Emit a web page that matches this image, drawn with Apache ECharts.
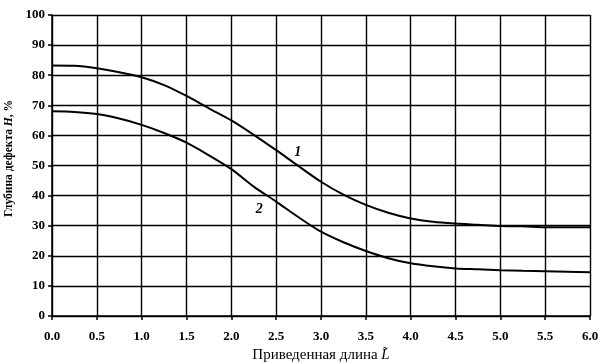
<!DOCTYPE html>
<html><head><meta charset="utf-8">
<script src="https://cdn.jsdelivr.net/npm/echarts@6/dist/echarts.min.js"></script>
<style>html,body{margin:0;padding:0;background:#fff}#c{width:605px;height:364px}</style>
</head><body><div id="c"></div>
<script>
const xValues = [0,0.25,0.5,0.75,1.0,1.25,1.5,1.75,2.0,2.25,2.5,2.75,3.0,3.25,3.5,3.75,4.0,4.25,4.5,4.75,5.0,5.25,5.5,5.75,6.0];
const curve1 = [83.2,83.1,82.3,81,79.3,76.7,73.1,69,65,60.2,55.1,49.8,44.6,40.3,36.9,34.3,32.4,31.3,30.7,30.3,29.9,29.8,29.5,29.5,29.5];
const curve2 = [68,67.8,67.1,65.6,63.5,60.8,57.6,53.4,48.8,43,38,32.8,28,24.5,21.6,19.2,17.5,16.5,15.8,15.5,15.2,15,14.9,14.7,14.5];
const curveNames = ['1','2'];
const labelPos = [[2.74,54.5],[2.31,35.5]];

const font = '"Liberation Serif","DejaVu Serif",serif';
const chart = echarts.init(document.getElementById('c'));
function mk(vals, i){
  return {
    type:'line', name:curveNames[i], smooth:0.3, symbol:'none',
    data: xValues.map((x,k)=>[x, vals[k]]),
    lineStyle:{color:'#000', width:2},
    markPoint:{
      symbol:'circle', symbolSize:0, silent:true,
      data:[{coord:labelPos[i], value:curveNames[i]}],
      label:{show:true, position:'inside', formatter:curveNames[i], color:'#000',
        fontFamily:font, fontStyle:'italic', fontWeight:'bold', fontSize:14}
    }
  };
}
chart.setOption({
  animation:false,
  backgroundColor:'#fff',
  grid:{left:52, right:15, top:15, bottom:48, outerBoundsMode:'none', containLabel:false},
  xAxis:{
    type:'value', min:0, max:6, interval:0.5,
    name:'Приведенная длина {i|L\u0303}', nameLocation:'middle', nameGap:30,
    nameTextStyle:{fontFamily:font, fontSize:15, color:'#000',
      rich:{i:{fontFamily:font, fontStyle:'italic', fontSize:15, color:'#000'}}},
    axisLine:{lineStyle:{color:'#000', width:1.5}},
    axisTick:{show:true, length:4, inside:false, lineStyle:{color:'#000', width:1.5}},
    axisLabel:{formatter:v=>v.toFixed(1), fontFamily:font, fontWeight:'bold', fontSize:13, color:'#000', margin:14},
    splitLine:{show:true, lineStyle:{color:'#000', width:1.4}}
  },
  yAxis:{
    type:'value', min:0, max:100, interval:10,
    name:'Глубина дефекта {i|H}, %', nameLocation:'middle', nameGap:30, nameRotate:90,
    nameTextStyle:{fontFamily:font, fontSize:11.5, fontWeight:'bold', color:'#000', padding:[0,0,0,14],
      rich:{i:{fontFamily:font, fontStyle:'italic', fontWeight:'bold', fontSize:11.5, color:'#000'}}},
    axisLine:{show:true, lineStyle:{color:'#000', width:1.5}},
    axisTick:{show:true, length:4, lineStyle:{color:'#000', width:1.5}},
    axisLabel:{fontFamily:font, fontWeight:'bold', fontSize:13, color:'#000', margin:7},
    splitLine:{show:true, lineStyle:{color:'#000', width:1.4}}
  },
  series:[mk(curve1,0), mk(curve2,1)]
});
</script></body></html>
